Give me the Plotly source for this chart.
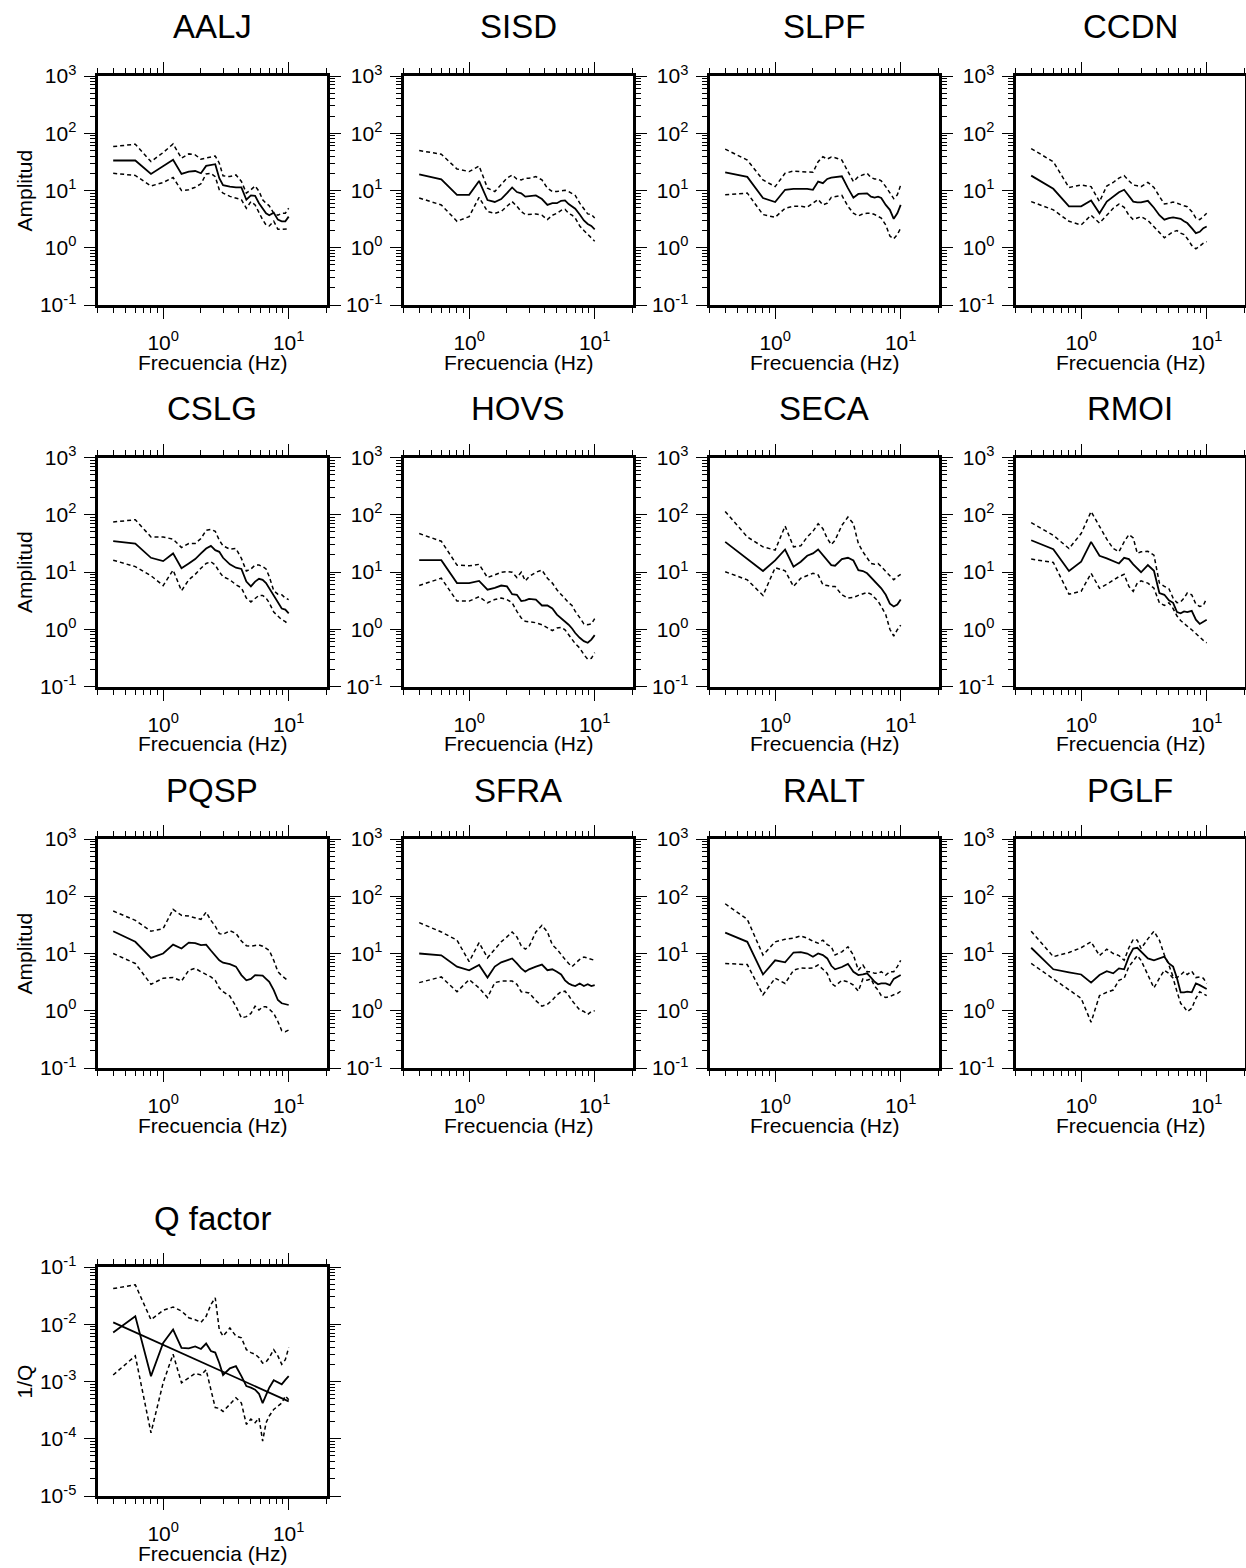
import math
import plotly.graph_objects as go

W, H = 1246, 1568

FREQ = [0.4, 0.6, 0.8, 1.0, 1.2, 1.4, 1.6, 1.8, 2.0, 2.2, 2.4, 2.6, 2.8, 3.0, 3.4,
        3.8, 4.2, 4.6, 5.0, 5.4, 5.8, 6.2, 6.6, 7.0, 7.6, 8.2, 8.8, 9.4, 10.0]

AALJ_MEAN = [33.4, 33.4, 19.5, 26.3, 34.3, 19.5, 21.4, 21.9, 20.0, 26.9, 27.6, 28.8, 16.4, 12.4, 11.7,
             11.3, 11.3, 6.9, 8.2, 8.1, 6.0, 4.9, 4.0, 3.7, 4.1, 3.1, 2.9, 2.9, 3.5]
AALJ_UP = [58.5, 64.3, 32, 46, 65, 36.6, 43.6, 41.9, 35.2, 36.6, 39, 40, 30, 18, 17.5,
           18.7, 14.4, 9.0, 10.3, 12, 9.7, 6.9, 6.0, 5.4, 4.0, 3.7, 4.0, 4.0, 4.9]
AALJ_LOW = [20, 18.3, 12, 13.8, 16.9, 10, 10.3, 11.4, 13.1, 19.5, 20, 17.5, 10.3, 9.0, 7.9,
            7.4, 6.9, 4.9, 6.4, 5.6, 4.0, 3.1, 2.5, 2.4, 2.9, 2.1, 2.1, 2.15, 2.15]

SISD_MEAN = [19.2, 15.7, 8.4, 8.4, 14.7, 6.8, 6.3, 7.1, 9.0, 11.3, 9.4, 8.9, 7.8, 7.9, 8.2,
             7.1, 5.6, 6.0, 6.0, 6.6, 6.7, 5.8, 5.3, 4.8, 3.8, 3.0, 2.6, 2.4, 2.1]
SISD_UP = [50, 43, 23.8, 21.4, 26.8, 11, 9.6, 12.5, 16.4, 18.7, 15.9, 15.3, 16.4, 16.4, 17.5,
           15.3, 11, 9.6, 9.6, 9.9, 10.1, 9.6, 8.9, 8.2, 6.0, 4.8, 3.9, 3.8, 3.3]
SISD_LOW = [7.4, 5.6, 2.9, 3.5, 7.6, 4.3, 4.0, 4.3, 5.3, 6.4, 5.3, 4.3, 3.8, 3.8, 3.9,
            3.7, 3.1, 3.7, 4.0, 4.5, 4.7, 4.0, 3.7, 3.3, 2.4, 2.0, 1.7, 1.5, 1.3]

SLPF_MEAN = [20.8, 17.3, 7.4, 6.3, 10.3, 10.7, 10.7, 10.7, 10.3, 14.3, 13.4, 15.9, 16.8, 17.2, 17.7,
             11, 7.5, 8.7, 8.9, 8.9, 7.8, 7.5, 7.8, 7.4, 5.6, 4.6, 3.2, 4.0, 5.6]
SLPF_UP = [52.8, 34, 15.3, 11.7, 20, 21.9, 21.4, 20.8, 20.8, 31.8, 38.9, 35.4, 38.4, 37.4, 34,
           21.4, 14.3, 17.5, 18.7, 20, 16.8, 15.9, 15.9, 14.7, 11.7, 9.0, 7.2, 8.4, 12.5]
SLPF_LOW = [8.4, 9.0, 3.8, 3.4, 4.9, 5.3, 5.3, 5.1, 6.0, 7.0, 5.6, 6.0, 7.6, 7.8, 8.2,
            5.3, 4.0, 3.6, 3.9, 4.0, 4.0, 3.8, 3.5, 3.3, 2.5, 1.6, 1.43, 1.7, 2.2]

CCDN_MEAN = [18.2, 10.7, 5.3, 5.3, 6.7, 4.0, 6.4, 7.9, 9.3, 10.3, 8.2, 6.4, 6.2, 6.2, 6.6,
             5.0, 3.7, 3.1, 3.3, 3.4, 3.3, 3.2, 2.9, 2.7, 2.2, 1.8, 1.9, 2.2, 2.35]
CCDN_UP = [54, 31.8, 11.3, 12.5, 11.7, 6.4, 12, 13.8, 16.5, 18.2, 14.8, 12.5, 12.1, 11.7, 13.9,
           11.3, 7.9, 5.8, 6.0, 6.3, 6.0, 5.6, 5.4, 5.2, 4.3, 3.3, 3.1, 3.5, 4.0]
CCDN_LOW = [6.4, 4.6, 2.9, 2.5, 3.7, 2.7, 3.7, 4.9, 5.8, 5.1, 3.7, 3.1, 3.3, 3.5, 3.0,
            2.3, 1.8, 1.5, 1.7, 1.9, 2.0, 1.8, 1.7, 1.45, 1.1, 0.96, 1.07, 1.2, 1.28]

CSLG_MEAN = [34.5, 31.4, 17.7, 15.5, 21.1, 11.6, 14.1, 16.8, 21.1, 25.7, 28.6, 24.1, 22.5, 17.7, 13.6,
             11.9, 11.3, 6.8, 5.6, 6.8, 7.6, 7.3, 6.4, 5.2, 4.0, 3.0, 2.3, 2.2, 1.9]
CSLG_UP = [74.7, 81.8, 41, 41, 37.4, 26.8, 31.4, 31.4, 38.4, 53.5, 55.7, 51.4, 35.9, 28.6, 25.1,
           25.7, 17.3, 10.4, 11.3, 13.2, 13.2, 12.4, 11.3, 8.3, 4.7, 4.1, 4.0, 3.5, 3.3]
CSLG_LOW = [16.1, 12.4, 8.6, 5.8, 10.8, 4.7, 7.3, 9.1, 11.6, 14.1, 15.1, 13.2, 10.1, 8.3, 7.3,
            6.0, 5.3, 3.5, 3.0, 3.5, 3.9, 3.9, 3.5, 2.9, 2.0, 1.7, 1.47, 1.36, 1.2]

HOVS_MEAN = [16.1, 16.1, 6.4, 6.4, 7.0, 4.9, 5.3, 5.8, 5.6, 4.1, 4.0, 3.1, 3.2, 3.4, 3.3,
             2.6, 2.6, 2.3, 1.8, 1.57, 1.38, 1.2, 1.03, 0.86, 0.71, 0.62, 0.58, 0.66, 0.79]
HOVS_UP = [46.9, 34.5, 13.2, 12.8, 13.6, 8.0, 8.9, 9.9, 10.2, 9.9, 8.0, 9.9, 7.0, 8.3, 9.9,
           10.8, 7.8, 6.4, 4.9, 4.0, 3.3, 2.9, 2.6, 2.05, 1.6, 1.24, 1.2, 1.24, 1.53]
HOVS_LOW = [5.8, 7.8, 3.1, 3.1, 3.7, 2.9, 3.3, 3.5, 3.3, 2.9, 2.05, 1.57, 1.38, 1.34, 1.3,
            1.2, 1.05, 0.95, 1.05, 1.08, 0.98, 0.81, 0.69, 0.56, 0.47, 0.36, 0.30, 0.31, 0.39]

SECA_MEAN = [33.6, 16.8, 10.4, 15.9, 24.7, 12.4, 15.1, 19.2, 21.1, 24.7, 19.7, 15.5, 13.2, 12.9, 16.8,
             17.7, 15.9, 10.8, 10.4, 9.5, 8.0, 6.8, 6.1, 5.2, 4.0, 2.8, 2.5, 2.7, 3.3]
SECA_UP = [114, 41, 27.5, 24.1, 63.5, 27.5, 28.6, 41, 51.4, 69.8, 57.1, 38.4, 30.2, 35.9, 65.3,
           91.2, 69.8, 31.4, 22.5, 17.3, 14.1, 13.6, 14.1, 12.4, 10.1, 8.6, 7.3, 8.3, 9.1]
SECA_LOW = [10.1, 7.3, 3.9, 11.9, 10.5, 5.6, 7.8, 8.6, 9.5, 8.9, 6.0, 5.8, 5.6, 5.6, 4.0,
            3.5, 3.6, 3.9, 4.1, 4.4, 4.1, 3.5, 3.1, 2.5, 1.8, 1.0, 0.76, 0.98, 1.18]

RMOI_MEAN = [35.9, 25.1, 10.4, 15.1, 33.6, 19.2, 17.3, 15.5, 14.1, 17.7, 16.8, 13.6, 11.3, 9.9, 13.2,
             10.5, 4.3, 4.0, 3.2, 2.9, 2.0, 1.9, 2.05, 2.0, 2.1, 1.47, 1.24, 1.36, 1.47]
RMOI_UP = [72.6, 43.8, 25.7, 46.9, 114, 61, 37.4, 25.7, 22.5, 33.6, 45, 39.4, 21.1, 22.5, 23.0,
           19.7, 6.4, 5.6, 5.1, 3.5, 2.9, 3.0, 3.5, 4.3, 4.0, 2.75, 2.5, 2.6, 3.5]
RMOI_LOW = [16.8, 14.7, 4.1, 4.6, 9.5, 5.2, 6.1, 7.3, 8.3, 9.1, 5.6, 4.6, 6.4, 7.0, 6.4,
            5.2, 2.9, 2.6, 2.9, 2.3, 1.7, 1.42, 1.24, 1.13, 0.98, 0.83, 0.71, 0.64, 0.58]

PQSP_MEAN = [24.5, 16, 8.4, 10, 14.3, 12.2, 15.5, 15.2, 14, 14.3, 11.3, 9.3, 7.6, 6.9, 6.5,
             5.9, 4.2, 3.4, 3.6, 4.2, 4.1, 4.1, 3.6, 3.2, 2.3, 1.54, 1.35, 1.3, 1.26]
PQSP_UP = [55.2, 38, 24.5, 27.2, 59, 46.4, 45, 41.7, 39.5, 53, 38, 30, 22.2, 21.6, 25,
           22.5, 16.5, 13.7, 13.4, 13.8, 14.1, 13.4, 12.1, 11.3, 7.6, 4.8, 4.1, 3.6, 3.3]
PQSP_LOW = [10, 6.7, 2.9, 3.7, 3.8, 3.3, 5.1, 5.5, 4.8, 4.3, 3.9, 3.4, 2.5, 2.15, 1.8,
            1.2, 0.75, 0.79, 0.9, 1.2, 1.03, 1.17, 1.17, 1.07, 0.9, 0.65, 0.45, 0.43, 0.46]

SFRA_MEAN = [10, 9.3, 5.9, 5.1, 6.3, 3.8, 5.9, 7.0, 7.6, 8.2, 6.7, 5.5, 4.8, 5.3, 5.9,
             6.4, 5.1, 5.3, 4.8, 4.3, 3.4, 3.0, 2.8, 2.7, 3.0, 2.7, 2.9, 2.7, 2.8]
SFRA_UP = [34.6, 23.8, 17.1, 7.2, 15.5, 8.4, 11.9, 16, 19.5, 23.8, 19.5, 13.6, 11.9, 13.2, 23.8,
           31.1, 23.8, 14.1, 11.9, 9.5, 7.9, 6.7, 5.9, 6.7, 7.9, 8.7, 8.2, 7.9, 7.6]
SFRA_LOW = [3.1, 3.9, 2.15, 3.5, 2.5, 1.7, 3.1, 3.3, 3.3, 3.3, 2.9, 2.15, 2.1, 2.05, 1.5,
            1.2, 1.3, 1.54, 1.88, 2.15, 2.2, 1.85, 1.5, 1.26, 1.03, 0.97, 0.86, 0.97, 1.0]

RALT_MEAN = [23.2, 16, 4.3, 7.6, 7.0, 10.4, 10.6, 10, 8.8, 10, 9.4, 8.2, 6.1, 5.3, 5.8,
             6.6, 4.8, 4.2, 4.3, 4.5, 3.8, 3.2, 2.9, 3.0, 3.0, 2.8, 3.6, 3.9, 4.2]
RALT_UP = [74, 39.5, 9.4, 16, 17.7, 18.5, 20.3, 18.5, 16.4, 15.1, 17.1, 14.3, 13.1, 9.4, 10.7,
           13.1, 9.4, 5.1, 6.3, 4.8, 4.8, 4.5, 4.5, 4.8, 4.2, 4.8, 4.8, 5.9, 7.6]
RALT_LOW = [6.7, 6.4, 1.9, 3.7, 3.0, 5.1, 5.6, 5.5, 5.6, 6.3, 5.3, 4.5, 3.0, 2.7, 3.4,
            3.2, 2.8, 2.2, 3.6, 3.4, 3.6, 2.7, 2.3, 1.84, 1.7, 1.77, 1.9, 2.0, 2.2]

PGLF_MEAN = [12.6, 5.3, 4.7, 4.3, 3.1, 4.2, 4.9, 4.5, 5.5, 5.3, 8.8, 12.2, 12.6, 10.7, 8.2,
             7.6, 8.2, 8.8, 6.7, 5.9, 3.7, 2.1, 2.1, 2.15, 2.1, 3.0, 2.8, 2.6, 2.4]
PGLF_UP = [24.5, 8.8, 10.4, 12.6, 16, 9.2, 11.9, 10, 9.2, 7.6, 12.6, 17.7, 17.1, 12.2, 18,
           24.5, 17.1, 9.4, 6.3, 3.9, 3.8, 4.2, 4.8, 4.3, 4.9, 3.8, 3.9, 3.7, 3.0]
PGLF_LOW = [6.7, 3.6, 2.4, 1.65, 0.63, 1.84, 2.1, 2.3, 3.4, 3.7, 5.9, 7.6, 9.2, 7.6, 4.2,
            2.5, 3.7, 5.1, 4.5, 3.7, 2.15, 1.35, 1.16, 0.97, 1.1, 1.65, 2.15, 1.95, 1.84]

Q_MEAN = [7.2e-3, 1.38e-2, 1.24e-3, 4.7e-3, 8.07e-3, 3.86e-3, 3.8e-3, 4.1e-3, 3.7e-3, 4.6e-3,
          3.4e-3, 3.2e-3, 2.1e-3, 1.3e-3, 1.7e-3, 1.85e-3, 1.24e-3, 8.3e-4, 7.8e-4, 7.2e-4,
          6.1e-4, 4.2e-4, 5.8e-4, 7.8e-4, 1.05e-3, 9.5e-4, 8.9e-4, 1.07e-3, 1.24e-3]
Q_UP = [4.2e-2, 4.9e-2, 1.2e-2, 1.75e-2, 2.0e-2, 1.7e-2, 1.3e-2, 1.2e-2, 1.08e-2, 1.38e-2,
        2.2e-2, 2.9e-2, 8.0e-3, 6.2e-3, 8.6e-3, 6.2e-3, 5.8e-3, 3.6e-3, 3.2e-3, 3.0e-3,
        2.6e-3, 2.1e-3, 2.2e-3, 2.6e-3, 3.6e-3, 2.8e-3, 2.0e-3, 2.4e-3, 3.9e-3]
Q_LOW = [1.3e-3, 2.8e-3, 1.27e-4, 9.5e-4, 3.0e-3, 9.5e-4, 1.16e-3, 1.38e-3, 1.3e-3, 1.6e-3,
         7.2e-4, 3.5e-4, 3.4e-4, 3.0e-4, 4.0e-4, 5.2e-4, 4.2e-4, 1.78e-4, 2.2e-4, 1.9e-4,
         2.3e-4, 9.1e-5, 1.9e-4, 2.5e-4, 3.25e-4, 3.7e-4, 4.2e-4, 5.6e-4, 4.8e-4]
Q_FIT_FREQ = [0.4, 10.0]
Q_FIT = [1.08e-2, 4.5e-4]

STATIONS = [
    ("AALJ", AALJ_MEAN, AALJ_UP, AALJ_LOW),
    ("SISD", SISD_MEAN, SISD_UP, SISD_LOW),
    ("SLPF", SLPF_MEAN, SLPF_UP, SLPF_LOW),
    ("CCDN", CCDN_MEAN, CCDN_UP, CCDN_LOW),
    ("CSLG", CSLG_MEAN, CSLG_UP, CSLG_LOW),
    ("HOVS", HOVS_MEAN, HOVS_UP, HOVS_LOW),
    ("SECA", SECA_MEAN, SECA_UP, SECA_LOW),
    ("RMOI", RMOI_MEAN, RMOI_UP, RMOI_LOW),
    ("PQSP", PQSP_MEAN, PQSP_UP, PQSP_LOW),
    ("SFRA", SFRA_MEAN, SFRA_UP, SFRA_LOW),
    ("RALT", RALT_MEAN, RALT_UP, RALT_LOW),
    ("PGLF", PGLF_MEAN, PGLF_UP, PGLF_LOW),
]

AMP_DECADES = [-1, 0, 1, 2, 3]
Q_DECADES = [-5, -4, -3, -2, -1]
X_MAJOR = [1, 10]
X_MINOR = [0.3, 0.4, 0.5, 0.6, 0.7, 0.8, 0.9, 2, 3, 4, 5, 6, 7, 8, 9, 20]
X_RANGE = [0.3, 20]

FONT = "Liberation Sans, Arial, Helvetica, sans-serif"
COL_LEFT = [97.5, 403.5, 709.5, 1015.5]
ROW_TOP = [76, 457.5, 839, 1267]
SIZE = 229

SOLID = dict(color="black", width=1.8)
DASHED = dict(color="black", width=1.5, dash="4px,3px")


def sup_label(e):
    return "10<sup>%d</sup>" % e


def minor_vals(decades):
    vals = []
    for d in decades[:-1]:
        for m in range(2, 10):
            vals.append(m * 10 ** d)
    return vals


fig = go.Figure()
layout = dict(
    template="none",
    width=W, height=H, margin=dict(l=0, r=0, t=0, b=0, pad=0, autoexpand=False),
    paper_bgcolor="white", plot_bgcolor="white", showlegend=False,
    font=dict(family=FONT, color="black", size=21),
)
annotations = []

panels = [(name, m, u, l, AMP_DECADES, "Amplitud", None) for name, m, u, l in STATIONS]
panels.append(("Q factor", Q_MEAN, Q_UP, Q_LOW, Q_DECADES, "1/Q", (Q_FIT_FREQ, Q_FIT)))

for i, (name, mean, up, low, decades, ylabel, fit) in enumerate(panels):
    r, c = divmod(i, 4)
    left = COL_LEFT[c]
    top = ROW_TOP[r]
    k = i + 1
    xa = "x" if k == 1 else "x%d" % k
    ya = "y" if k == 1 else "y%d" % k

    common = dict(
        type="log", showgrid=False, zeroline=False, showline=True, linewidth=3,
        linecolor="black", mirror="allticks", ticks="outside", ticklen=11,
        tickwidth=1.4, tickcolor="black", tickfont=dict(size=21, family=FONT, color="black"),
        fixedrange=True, tickmode="array", automargin=False,
    )
    xaxis = dict(common)
    xaxis.update(
        domain=[left / W, (left + SIZE) / W], anchor=ya,
        range=[math.log10(X_RANGE[0]), math.log10(X_RANGE[1])],
        tickvals=X_MAJOR, ticktext=[sup_label(0), sup_label(1)],
        minor=dict(ticks="outside", ticklen=5, tickwidth=1.2, tickcolor="black",
                   tickmode="array", tickvals=X_MINOR),
        ticklabelstandoff=6,
    )
    yaxis = dict(common)
    yaxis.update(
        domain=[1 - (top + SIZE) / H, 1 - top / H], anchor=xa,
        range=[decades[0], decades[-1]],
        tickvals=[10 ** d for d in decades], ticktext=[sup_label(d) for d in decades],
        minor=dict(ticks="outside", ticklen=5, tickwidth=1.2, tickcolor="black",
                   tickmode="array", tickvals=minor_vals(decades)),
        ticklabelstandoff=3,
    )
    layout["xaxis" if k == 1 else "xaxis%d" % k] = xaxis
    layout["yaxis" if k == 1 else "yaxis%d" % k] = yaxis

    fig.add_trace(go.Scatter(x=FREQ, y=up, mode="lines", line=DASHED, xaxis=xa, yaxis=ya,
                             hoverinfo="skip"))
    fig.add_trace(go.Scatter(x=FREQ, y=low, mode="lines", line=DASHED, xaxis=xa, yaxis=ya,
                             hoverinfo="skip"))
    fig.add_trace(go.Scatter(x=FREQ, y=mean, mode="lines", line=SOLID, xaxis=xa, yaxis=ya,
                             hoverinfo="skip"))
    if fit is not None:
        fig.add_trace(go.Scatter(x=fit[0], y=fit[1], mode="lines", line=SOLID,
                                 xaxis=xa, yaxis=ya, hoverinfo="skip"))

    cx = (left + SIZE / 2) / W
    annotations.append(dict(text=name, x=cx, y=1 - (top - 49) / H, xref="paper", yref="paper",
                            showarrow=False, xanchor="center", yanchor="middle",
                            font=dict(size=33, family=FONT, color="black")))
    annotations.append(dict(text="Frecuencia (Hz)", x=cx, y=1 - (top + 286) / H,
                            xref="paper", yref="paper", showarrow=False,
                            xanchor="center", yanchor="middle",
                            font=dict(size=21, family=FONT, color="black")))
    if c == 0:
        annotations.append(dict(text=ylabel, x=24 / W, y=1 - (top + SIZE / 2) / H,
                                xref="paper", yref="paper", showarrow=False, textangle=-90,
                                xanchor="center", yanchor="middle",
                                font=dict(size=21, family=FONT, color="black")))

layout["annotations"] = annotations
fig.update_layout(**layout)

PIN_TO_CORNER = (
    "document.documentElement.style.margin='0px';"
    "document.body.style.margin='0px';document.body.style.overflow='hidden';"
    "var gd=document.getElementById('{plot_id}');"
    "gd.style.position='fixed';gd.style.left='0px';gd.style.top='0px';"
)
fig.write_html("out.html", post_script=PIN_TO_CORNER, config={"displayModeBar": False})
